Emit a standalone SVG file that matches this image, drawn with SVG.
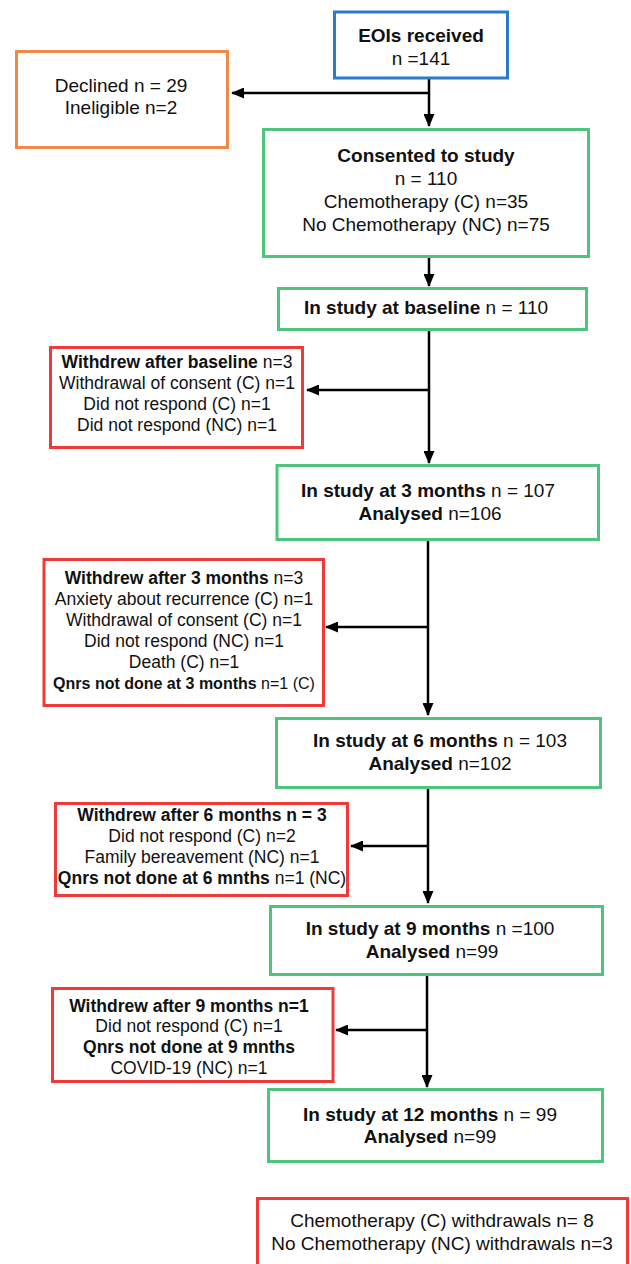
<svg xmlns="http://www.w3.org/2000/svg" width="631" height="1264" viewBox="0 0 631 1264">
<style>
  text { font-family: "Liberation Sans", Arial, sans-serif; fill: #111; text-anchor: middle; }
  .big { font-size: 19px; }
  .sm { font-size: 17.5px; }
  .xs { font-size: 16px; }
  .b { font-weight: bold; }
  rect { fill: #fff; stroke-width: 3; }
  .blue { stroke: #2A7BC8; }
  .orange { stroke: #F08A48; }
  .green { stroke: #4EC47C; }
  .red { stroke: #F03A3A; }
  .conn line { stroke: #000; stroke-width: 2.5; fill: none; }
</style>
<defs>
  <marker id="ah" markerUnits="userSpaceOnUse" markerWidth="13" markerHeight="11" refX="12" refY="5.5" orient="auto">
    <path d="M0,0 L13,5.5 L0,11 z" fill="#000"/>
  </marker>
</defs>
<rect x="0" y="0" width="631" height="1264" style="fill:#fff;stroke:none"/>

<g id="connectors" class="conn">
  <line x1="429" y1="79" x2="429" y2="126" marker-end="url(#ah)"/>
  <line x1="429" y1="93" x2="232" y2="93" marker-end="url(#ah)"/>
  <line x1="429" y1="258" x2="429" y2="286" marker-end="url(#ah)"/>
  <line x1="429" y1="331" x2="429" y2="463" marker-end="url(#ah)"/>
  <line x1="429" y1="390" x2="307" y2="390" marker-end="url(#ah)"/>
  <line x1="428" y1="541" x2="428" y2="715" marker-end="url(#ah)"/>
  <line x1="428" y1="627" x2="326" y2="627" marker-end="url(#ah)"/>
  <line x1="428" y1="789" x2="428" y2="903" marker-end="url(#ah)"/>
  <line x1="428" y1="846" x2="351" y2="846" marker-end="url(#ah)"/>
  <line x1="427" y1="976" x2="427" y2="1087" marker-end="url(#ah)"/>
  <line x1="427" y1="1030" x2="336" y2="1030" marker-end="url(#ah)"/>
</g>

<g id="eoi">
  <rect class="blue" x="334.5" y="12" width="173" height="66"/>
  <text class="big" x="421" y="42"><tspan class="b">EOIs received</tspan></text>
  <text class="big" x="421" y="65">n =141</text>
</g>

<g id="declined">
  <rect class="orange" x="16.5" y="51.5" width="211" height="96"/>
  <text class="big" x="121" y="92">Declined n = 29</text>
  <text class="big" x="121" y="114">Ineligible n=2</text>
</g>

<g id="consented">
  <rect class="green" x="263.5" y="129.5" width="325" height="127"/>
  <text class="big b" x="426" y="162">Consented to study</text>
  <text class="big" x="426" y="185">n = 110</text>
  <text class="big" x="426" y="208">Chemotherapy (C) n=35</text>
  <text class="big" x="426" y="231">No Chemotherapy (NC) n=75</text>
</g>

<g id="baseline">
  <rect class="green" x="278.5" y="288.5" width="308" height="41"/>
  <text class="big" x="426" y="314"><tspan class="b">In study at baseline</tspan> n = 110</text>
</g>

<g id="withdrew-baseline">
  <rect class="red" x="50.5" y="347.5" width="252" height="100"/>
  <text class="sm" x="177" y="368"><tspan class="b">Withdrew after baseline</tspan> n=3</text>
  <text class="sm" x="177" y="389">Withdrawal of consent (C) n=1</text>
  <text class="sm" x="177" y="410">Did not respond (C) n=1</text>
  <text class="sm" x="177" y="431">Did not respond (NC) n=1</text>
</g>

<g id="month3">
  <rect class="green" x="277" y="465.5" width="321.5" height="74"/>
  <text class="big" x="428" y="497"><tspan class="b">In study at 3 months</tspan> n = 107</text>
  <text class="big" x="430" y="520"><tspan class="b">Analysed</tspan> n=106</text>
</g>

<g id="withdrew-3">
  <rect class="red" x="44" y="559.5" width="279.5" height="146"/>
  <text class="sm" x="184" y="584"><tspan class="b">Withdrew after 3 months</tspan> n=3</text>
  <text class="sm" x="184" y="605">Anxiety about recurrence (C) n=1</text>
  <text class="sm" x="184" y="626">Withdrawal of consent (C) n=1</text>
  <text class="sm" x="184" y="647">Did not respond (NC) n=1</text>
  <text class="sm" x="184" y="668">Death (C) n=1</text>
  <text class="xs" x="184" y="689"><tspan class="b">Qnrs not done at 3 months</tspan> n=1 (C)</text>
</g>

<g id="month6">
  <rect class="green" x="276.5" y="718.5" width="324" height="69"/>
  <text class="big" x="440" y="747"><tspan class="b">In study at 6 months</tspan> n = 103</text>
  <text class="big" x="440" y="770"><tspan class="b">Analysed</tspan> n=102</text>
</g>

<g id="withdrew-6">
  <rect class="red" x="55.5" y="803.5" width="292" height="92"/>
  <text class="sm b" x="202" y="821">Withdrew after 6 months n = 3</text>
  <text class="sm" x="202" y="842">Did not respond (C) n=2</text>
  <text class="sm" x="202" y="863">Family bereavement (NC) n=1</text>
  <text class="sm" x="202" y="884"><tspan class="b">Qnrs not done at 6 mnths</tspan> n=1 (NC)</text>
</g>

<g id="month9">
  <rect class="green" x="270.5" y="906.5" width="332" height="68"/>
  <text class="big" x="430" y="935"><tspan class="b">In study at 9 months</tspan> n =100</text>
  <text class="big" x="432" y="958"><tspan class="b">Analysed</tspan> n=99</text>
</g>

<g id="withdrew-9">
  <rect class="red" x="52.5" y="988.5" width="280.5" height="93"/>
  <text class="sm b" x="189" y="1012">Withdrew after 9 months n=1</text>
  <text class="sm" x="189" y="1032">Did not respond (C) n=1</text>
  <text class="sm b" x="189" y="1053">Qnrs not done at 9 mnths</text>
  <text class="sm" x="189" y="1074">COVID-19 (NC) n=1</text>
</g>

<g id="month12">
  <rect class="green" x="268.5" y="1089.5" width="334" height="72"/>
  <text class="big" x="430" y="1121"><tspan class="b">In study at 12 months</tspan> n = 99</text>
  <text class="big" x="430" y="1143"><tspan class="b">Analysed</tspan> n=99</text>
</g>

<g id="summary">
  <rect class="red" x="257.5" y="1198.5" width="370" height="70"/>
  <text class="big" x="442" y="1227">Chemotherapy (C) withdrawals n= 8</text>
  <text class="big" x="442" y="1250">No Chemotherapy (NC) withdrawals n=3</text>
</g>
</svg>
